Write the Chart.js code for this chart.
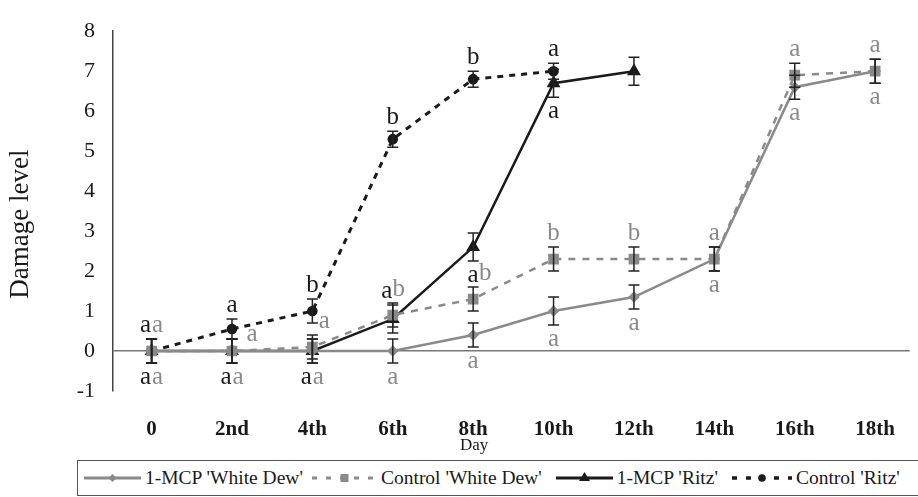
<!DOCTYPE html>
<html>
<head>
<meta charset="utf-8">
<script src="https://cdn.jsdelivr.net/npm/chart.js@4.4.1/dist/chart.umd.min.js"></script>
<style>
  html, body { margin: 0; padding: 0; background: #fff; }
  #wrap { position: relative; width: 918px; height: 497px; overflow: hidden; }
  #legend {
    position: absolute; left: 77px; top: 460px; width: 850px; height: 36px;
    border: 1.5px solid #555; box-sizing: border-box;
    display: flex; align-items: center;
    font-family: 'Liberation Serif', serif; font-size: 19.5px; color: #1a1a1a;
    white-space: nowrap;
  }
  #legend .item { display: flex; align-items: center; }
</style>
</head>
<body>
<div id="wrap">
  <canvas id="damageChart" width="918" height="460"></canvas>
  <div id="legend"></div>
</div>
<script>
const dayLabels = ['0', '2nd', '4th', '6th', '8th', '10th', '12th', '14th', '16th', '18th'];

// mean damage level per series
const mcpWhiteDew = [0, 0, 0, 0, 0.4, 1.0, 1.35, 2.3, 6.6, 7.0];
const ctrlWhiteDew = [0, 0, 0.1, 0.9, 1.3, 2.3, 2.3, 2.3, 6.9, 7.0];
const mcpRitz = [0, 0, 0, 0.8, 2.6, 6.7, 7.0];
const ctrlRitz = [0, 0.55, 1.0, 5.3, 6.8, 7.0];

// standard error per point
const mcpWhiteDewErr = [0.3, 0.3, 0.3, 0.3, 0.3, 0.35, 0.3, 0.3, 0.3, 0.3];
const ctrlWhiteDewErr = [0.3, 0.3, 0.3, 0.3, 0.3, 0.3, 0.3, 0.3, 0.3, 0.3];
const mcpRitzErr = [0.3, 0.3, 0.3, 0.35, 0.35, 0.35, 0.35];
const ctrlRitzErr = [0.3, 0.25, 0.3, 0.2, 0.2, 0.2];

// significance letters
const mcpWhiteDewLetters = ['a', 'a', 'a', 'a', 'a', 'a', 'a', 'a', 'a', 'a'];
const ctrlWhiteDewLetters = ['a', 'a', 'a', 'b', 'b', 'b', 'b', 'a', 'a', 'a'];
const mcpRitzLetters = ['a', 'a', 'a', 'a', 'a', 'a', ''];
const ctrlRitzLetters = ['a', 'a', 'b', 'b', 'b', 'a'];

const yTicks = [-1, 0, 1, 2, 3, 4, 5, 6, 7, 8];

// where each letter sits relative to its point
const mcpWhiteDewPlace = ['dnR', 'dnR', 'dnR', 'dn', 'dn', 'dn', 'dn', 'dn', 'dn', 'dn'];
const ctrlWhiteDewPlace = ['upR', 'right', 'side', 'upR', 'side', 'up', 'up', 'up', 'up', 'up'];
const mcpRitzPlace = ['dnL', 'dnL', 'dnL', 'upL', 'dn', 'dn', 'dn'];
const ctrlRitzPlace = ['upL', 'up', 'up', 'up', 'up', 'up'];

const GRAY = '#8a8a8a';
const BLACK = '#1a1a1a';
const SERIF = "'Liberation Serif', 'Times New Roman', serif";

const toXY = (arr) => arr.map((v, i) => ({ x: i, y: v }));

const datasets = [
  {
    label: "Control 'White Dew'",
    data: toXY(ctrlWhiteDew),
    err: ctrlWhiteDewErr,
    letters: ctrlWhiteDewLetters,
    place: ctrlWhiteDewPlace,
    borderColor: GRAY,
    backgroundColor: GRAY,
    borderWidth: 2.5,
    borderDash: [7, 7],
    pointStyle: 'rect',
    pointRadius: 5.8,
  },
  {
    label: "1-MCP 'White Dew'",
    data: toXY(mcpWhiteDew),
    err: mcpWhiteDewErr,
    letters: mcpWhiteDewLetters,
    place: mcpWhiteDewPlace,
    borderColor: GRAY,
    backgroundColor: GRAY,
    borderWidth: 2.5,
    pointStyle: 'rectRot',
    pointRadius: 4,
  },
  {
    label: "Control 'Ritz'",
    data: toXY(ctrlRitz),
    err: ctrlRitzErr,
    letters: ctrlRitzLetters,
    place: ctrlRitzPlace,
    borderColor: BLACK,
    backgroundColor: BLACK,
    borderWidth: 3,
    borderDash: [6, 6],
    pointStyle: 'circle',
    pointRadius: 3.8,
  },
  {
    label: "1-MCP 'Ritz'",
    data: toXY(mcpRitz),
    err: mcpRitzErr,
    letters: mcpRitzLetters,
    place: mcpRitzPlace,
    borderColor: BLACK,
    backgroundColor: BLACK,
    borderWidth: 2.5,
    pointStyle: 'triangle',
    pointRadius: 5.5,
  },
];

// error bars + significance letters, positioned through the chart scales
const annotatePlugin = {
  id: 'annotate',
  afterDatasetsDraw(chart) {
    const { ctx, scales: { x, y } } = chart;
    ctx.save();
    chart.data.datasets.forEach((ds) => {
      ds.data.forEach((pt, i) => {
        const err = ds.err[i] || 0;
        const px = x.getPixelForValue(pt.x);
        const yTop = y.getPixelForValue(pt.y + err);
        const yBot = y.getPixelForValue(pt.y - err);
        ctx.strokeStyle = '#222';
        ctx.lineWidth = 1.5;
        ctx.setLineDash([]);
        ctx.beginPath();
        ctx.moveTo(px, yTop); ctx.lineTo(px, yBot);
        ctx.moveTo(px - 5.5, yTop); ctx.lineTo(px + 5.5, yTop);
        ctx.moveTo(px - 5.5, yBot); ctx.lineTo(px + 5.5, yBot);
        ctx.stroke();

        const letter = ds.letters[i];
        if (!letter) return;
        const place = ds.place[i];
        let lx = px;
        let ly = place.startsWith('dn') ? yBot + 14 : yTop - 14;
        if (place.endsWith('L')) lx -= 6;
        if (place.endsWith('R')) lx += 6;
        if (place === 'side') lx += 12;
        if (place === 'right') { lx += 20; ly = yTop - 5; }
        ctx.fillStyle = ds.borderColor;
        ctx.font = `25px ${SERIF}`;
        ctx.textAlign = 'center';
        ctx.textBaseline = 'middle';
        ctx.fillText(letter, lx, ly);
      });
    });

    // axis titles
    const area = chart.chartArea;
    ctx.fillStyle = BLACK;
    ctx.textAlign = 'center';
    ctx.textBaseline = 'middle';
    ctx.font = `17px ${SERIF}`;
    ctx.fillText('Day', x.getPixelForValue(4) + 1, area.bottom + 55);
    ctx.translate(21, (area.top + area.bottom) / 2 + 13);
    ctx.rotate(-Math.PI / 2);
    ctx.font = `27px ${SERIF}`;
    ctx.fillText('Damage level', 0, 0);
    ctx.restore();
  },
};

new Chart(document.getElementById('damageChart').getContext('2d'), {
  type: 'line',
  data: { datasets },
  options: {
    responsive: false,
    animation: false,
    layout: { padding: { top: 18, right: 1, bottom: 0, left: 0 } },
    plugins: {
      legend: { display: false },
      tooltip: { enabled: false },
    },
    elements: {
      line: { tension: 0, fill: false },
      point: { borderWidth: 0 },
    },
    scales: {
      x: {
        type: 'linear',
        min: -0.48,
        max: 9.43,
        afterFit(scale) { scale.height = 69; },
        grid: { display: false },
        border: { display: false },
        ticks: {
          stepSize: 1,
          includeBounds: false,
          autoSkip: false,
          maxRotation: 0,
          padding: 18,
          color: BLACK,
          font: { family: SERIF, size: 21, weight: 'bold' },
          callback(value) {
            return Number.isInteger(value) ? dayLabels[value] : '';
          },
        },
      },
      y: {
        min: yTicks[0],
        max: yTicks[yTicks.length - 1],
        afterFit(scale) { scale.width = 113; },
        grid: {
          drawTicks: false,
          color(c) { return c.tick.value === 0 ? '#777' : 'transparent'; },
          lineWidth: 1.5,
        },
        border: { display: true, color: '#444', width: 1.5 },
        ticks: {
          stepSize: 1,
          padding: 18,
          color: BLACK,
          font: { family: SERIF, size: 22 },
        },
      },
    },
  },
  plugins: [annotatePlugin],
});

// legend with small line-and-marker swatches
const legendOrder = [1, 0, 3, 2];
const legendGap = [6, 9, 14, 14];
const swatchWidth = [57, 65, 57, 60];
const legendEl = document.getElementById('legend');
legendOrder.forEach((idx, k) => {
  const ds = datasets[idx];
  const item = document.createElement('div');
  item.className = 'item';
  item.style.marginLeft = legendGap[k] + 'px';
  const w = swatchWidth[k];
  const sw = document.createElement('canvas');
  sw.width = w; sw.height = 14;
  sw.style.marginRight = '4px';
  const c = sw.getContext('2d');
  const cx = w / 2;
  c.strokeStyle = ds.borderColor;
  c.fillStyle = ds.borderColor;
  c.lineWidth = ds.borderWidth + 0.5;
  if (ds.borderDash) c.setLineDash([5, 9]);
  c.beginPath(); c.moveTo(0, 7); c.lineTo(w, 7); c.stroke();
  c.beginPath();
  if (ds.pointStyle === 'rect') c.rect(cx - 4, 3, 8, 8);
  else if (ds.pointStyle === 'rectRot') { c.moveTo(cx, 3); c.lineTo(cx + 4, 7); c.lineTo(cx, 11); c.lineTo(cx - 4, 7); }
  else if (ds.pointStyle === 'triangle') { c.moveTo(cx, 1); c.lineTo(cx + 5.5, 10); c.lineTo(cx - 5.5, 10); }
  else c.arc(cx, 7, 3.8, 0, Math.PI * 2);
  c.fill();
  const txt = document.createElement('span');
  txt.textContent = ds.label;
  item.appendChild(sw);
  item.appendChild(txt);
  legendEl.appendChild(item);
});
</script>
</body>
</html>
